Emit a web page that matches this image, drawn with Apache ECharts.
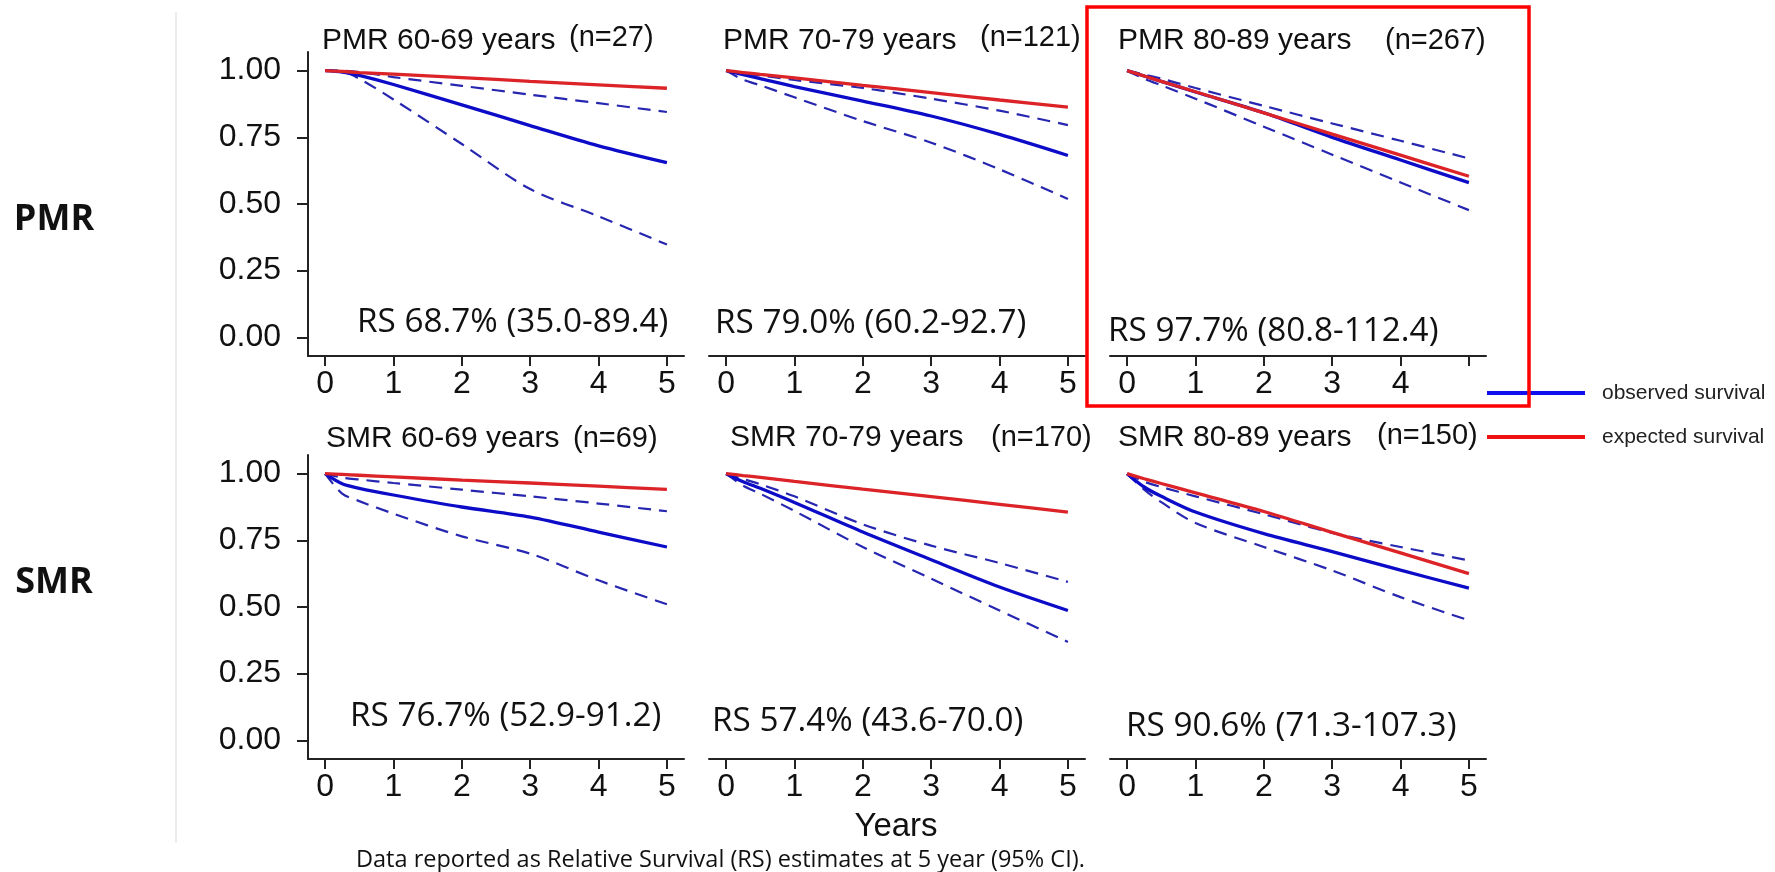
<!DOCTYPE html>
<html>
<head>
<meta charset="UTF-8">
<title>Relative survival PMR / SMR</title>
<script src="https://cdn.jsdelivr.net/npm/echarts@6/dist/echarts.min.js"></script>
<style>
	html, body { margin: 0; padding: 0; background: #fff; }
	#chart { width: 1775px; height: 872px; }
</style>
</head>
<body>
<div id="chart"></div>
<script>
// time points (years) used for every curve
var YEARS = [0, 0.25, 0.5, 1, 2, 3, 4, 5];
var X_TICKS = [0, 1, 2, 3, 4, 5];
var Y_TICKS = [0, 0.25, 0.5, 0.75, 1];

var PANEL_TITLES = ['PMR 60-69 years', 'PMR 70-79 years', 'PMR 80-89 years',
	'SMR 60-69 years', 'SMR 70-79 years', 'SMR 80-89 years'];
var PANEL_N = ['(n=27)', '(n=121)', '(n=267)', '(n=69)', '(n=170)', '(n=150)'];
var RS_LABELS = ['RS 68.7% (35.0-89.4)', 'RS 79.0% (60.2-92.7)', 'RS 97.7% (80.8-112.4)',
	'RS 76.7% (52.9-91.2)', 'RS 57.4% (43.6-70.0)', 'RS 90.6% (71.3-107.3)'];

// PMR 60-69
var pmr60Obs = [1, 0.995, 0.982, 0.948, 0.872, 0.794, 0.718, 0.655];
var pmr60Low = [1, 0.997, 0.970, 0.892, 0.725, 0.556, 0.454, 0.348];
var pmr60Up = [1, 1.000, 0.995, 0.976, 0.943, 0.910, 0.878, 0.845];
var pmr60Exp = [1, 0.997, 0.993, 0.987, 0.974, 0.960, 0.947, 0.934];
// PMR 70-79
var pmr70Obs = [1, 0.985, 0.970, 0.940, 0.886, 0.830, 0.761, 0.682];
var pmr70Low = [1, 0.966, 0.945, 0.900, 0.811, 0.730, 0.630, 0.519];
var pmr70Up = [1, 0.990, 0.982, 0.965, 0.935, 0.895, 0.850, 0.796];
var pmr70Exp = [1, 0.993, 0.986, 0.973, 0.945, 0.918, 0.890, 0.863];
// PMR 80-89
var pmr80Obs = [1, 0.980, 0.960, 0.920, 0.842, 0.750, 0.665, 0.580];
var pmr80Low = [1, 0.970, 0.945, 0.895, 0.790, 0.685, 0.581, 0.477];
var pmr80Up = [1, 0.985, 0.970, 0.935, 0.868, 0.802, 0.737, 0.671];
var pmr80Exp = [1, 0.980, 0.960, 0.921, 0.842, 0.762, 0.683, 0.604];
// SMR 60-69
var smr60Obs = [1, 0.962, 0.945, 0.920, 0.875, 0.837, 0.781, 0.725];
var smr60Low = [1, 0.925, 0.897, 0.850, 0.765, 0.700, 0.600, 0.510];
var smr60Up = [1, 0.985, 0.978, 0.965, 0.940, 0.915, 0.888, 0.859];
var smr60Exp = [1, 0.997, 0.994, 0.988, 0.976, 0.965, 0.953, 0.941];
// SMR 70-79
var smr70Obs = [1, 0.970, 0.945, 0.892, 0.781, 0.677, 0.575, 0.487];
var smr70Low = [1, 0.955, 0.925, 0.860, 0.725, 0.606, 0.487, 0.369];
var smr70Up = [1, 0.980, 0.960, 0.915, 0.810, 0.730, 0.665, 0.594];
var smr70Exp = [1, 0.993, 0.986, 0.971, 0.942, 0.914, 0.885, 0.856];
// SMR 80-89
var smr80Obs = [1, 0.950, 0.915, 0.856, 0.775, 0.708, 0.638, 0.571];
var smr80Low = [1, 0.940, 0.893, 0.815, 0.725, 0.637, 0.537, 0.450];
var smr80Up = [1, 0.970, 0.950, 0.915, 0.848, 0.778, 0.725, 0.675];
var smr80Exp = [1, 0.981, 0.963, 0.928, 0.858, 0.780, 0.703, 0.625];

var PANELS = [
	[pmr60Obs, pmr60Low, pmr60Up, pmr60Exp],
	[pmr70Obs, pmr70Low, pmr70Up, pmr70Exp],
	[pmr80Obs, pmr80Low, pmr80Up, pmr80Exp],
	[smr60Obs, smr60Low, smr60Up, smr60Exp],
	[smr70Obs, smr70Low, smr70Up, smr70Exp],
	[smr80Obs, smr80Low, smr80Up, smr80Exp]
];

// layout
var COL_LEFT = [308, 709, 1110];
var ROW_TOP = [52, 455];
var GRID_W = 376, GRID_H = 304;
var SANS = '"Liberation Sans", Arial, sans-serif';
var CAL = '"Open Sans", "Noto Sans", sans-serif';
var BLUE = '#0c0cc8', BLUE_CI = '#2626b0', RED = '#dc2328';

function pairs(arr) {
	return YEARS.map(function(x, k) { return [x, arr[k]]; });
}

var grids = [], xAxes = [], yAxes = [], series = [], graphics = [];

for (var i = 0; i < 6; i++) {
	var r = Math.floor(i / 3), c = i % 3;
	grids.push({ left: COL_LEFT[c], top: ROW_TOP[r], width: GRID_W, height: GRID_H });
	xAxes.push({
		type: 'value', gridIndex: i, min: -0.25, max: 5.25,
		axisLine: { show: true, onZero: false, lineStyle: { color: '#222', width: 2 } },
		axisTick: { show: true, customValues: X_TICKS, length: 10, lineStyle: { color: '#222', width: 2 } },
		axisLabel: {
			customValues: i === 2 ? [0, 1, 2, 3, 4] : X_TICKS,
			margin: 12, fontSize: 32, fontFamily: SANS, color: '#111'
		},
		splitLine: { show: false }
	});
	yAxes.push({
		type: 'value', gridIndex: i, min: -0.07, max: 1.07, show: c === 0,
		axisLine: { show: true, onZero: false, lineStyle: { color: '#222', width: 2 } },
		axisTick: { show: true, customValues: Y_TICKS, length: 11, lineStyle: { color: '#222', width: 2 } },
		axisLabel: {
			customValues: Y_TICKS, margin: 27, fontSize: 32, fontFamily: SANS, color: '#111',
			formatter: function(v) { return v.toFixed(2); }
		},
		splitLine: { show: false }
	});

	var d = PANELS[i];
	// CI bands first, then observed, expected on top
	[1, 2].forEach(function(k) {
		series.push({
			name: '95% CI', type: 'line', xAxisIndex: i, yAxisIndex: i,
			data: pairs(d[k]), showSymbol: false, smooth: 0.3, color: BLUE_CI,
			lineStyle: { color: BLUE_CI, width: 2.2, type: [13, 8] }
		});
	});
	series.push({
		name: 'observed survival', type: 'line', xAxisIndex: i, yAxisIndex: i,
		data: pairs(d[0]), showSymbol: false, smooth: 0.3, color: BLUE,
		lineStyle: { color: BLUE, width: 3.3 }
	});
	series.push({
		name: 'expected survival', type: 'line', xAxisIndex: i, yAxisIndex: i,
		data: pairs(d[3]), showSymbol: false, smooth: 0.3, color: RED,
		lineStyle: { color: RED, width: 3.3 }
	});
}

// panel titles, n, RS labels
var titlePos = [[322, 41], [723, 41], [1118, 41], [326, 439], [730, 438], [1118, 438]];
var nPos = [[569, 38], [980, 38], [1385, 41], [573, 439], [991, 438], [1377, 436]];
var rsPos = [[357, 323], [715, 324], [1108, 332], [350, 717], [712, 722], [1126, 727]];
for (var j = 0; j < 6; j++) {
	graphics.push({
		type: 'text', x: titlePos[j][0], y: titlePos[j][1],
		style: { text: PANEL_TITLES[j], fontSize: 30, fontFamily: SANS, fill: '#111', align: 'left', verticalAlign: 'middle' }
	});
	graphics.push({
		type: 'text', x: nPos[j][0], y: nPos[j][1],
		style: { text: PANEL_N[j], fontSize: 29, fontFamily: SANS, fill: '#111', align: 'left', verticalAlign: 'middle' }
	});
	graphics.push({
		type: 'text', x: rsPos[j][0], y: rsPos[j][1], scaleX: 1.04,
		style: { text: RS_LABELS[j], fontSize: 32, fontFamily: CAL, fill: '#111', align: 'left', verticalAlign: 'middle' }
	});
}

// row labels, separator, highlight box, axis caption, footnote
graphics.push(
	{ type: 'text', x: 54, y: 220, style: { text: 'PMR', fontSize: 36, fontWeight: 'bold', fontFamily: CAL, fill: '#111', align: 'center', verticalAlign: 'middle' } },
	{ type: 'text', x: 54, y: 583, style: { text: 'SMR', fontSize: 36, fontWeight: 'bold', fontFamily: CAL, fill: '#111', align: 'center', verticalAlign: 'middle' } },
	{ type: 'line', shape: { x1: 176, y1: 12, x2: 176, y2: 843 }, style: { stroke: '#e6e6e6', lineWidth: 1.5 } },
	{ type: 'rect', shape: { x: 1087, y: 7, width: 442, height: 399 }, style: { fill: null, stroke: '#ff0000', lineWidth: 3.5 }, z: 100 },
	{ type: 'text', x: 896, y: 827, style: { text: 'Years', fontSize: 33, fontFamily: SANS, fill: '#111', align: 'center', verticalAlign: 'middle' } },
	{ type: 'text', x: 356, y: 860, style: { text: 'Data reported as Relative Survival (RS) estimates at 5 year (95% CI).', fontSize: 23.5, fontFamily: CAL, fill: '#111', align: 'left', verticalAlign: 'middle' } }
);

var chart = echarts.init(document.getElementById('chart'));
chart.setOption({
	animation: false,
	backgroundColor: '#fff',
	grid: grids,
	xAxis: xAxes,
	yAxis: yAxes,
	legend: {
		orient: 'vertical', left: 1487, top: 381, padding: 0,
		itemWidth: 98, itemHeight: 4, itemGap: 20, icon: 'rect', selectedMode: false,
		textStyle: { fontSize: 21, fontFamily: SANS, color: '#222', lineHeight: 24, padding: [0, 0, 0, 12] },
		data: [
			{ name: 'observed survival', itemStyle: { color: '#1010ee' } },
			{ name: 'expected survival', itemStyle: { color: '#ee1111' } }
		]
	},
	series: series,
	graphic: graphics
});
</script>
</body>
</html>
